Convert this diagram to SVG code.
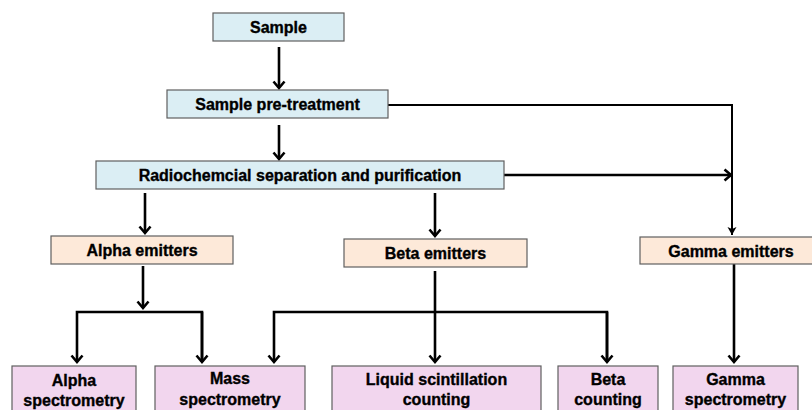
<svg xmlns="http://www.w3.org/2000/svg" width="812" height="410" viewBox="0 0 812 410">
<style>
  .box rect { stroke: #5f5f5f; stroke-width: 1.2; }
  .blue rect { fill: #DBEEF4; }
  .peach rect { fill: #FDE9D9; }
  .pink rect { fill: #F2D6EE; }
  text { font-family: "Liberation Sans", Arial, sans-serif; font-weight: bold; font-size: 16px; fill: #000; stroke: #000; stroke-width: 0.35; text-anchor: middle; }
  .conn path { fill: none; stroke: #000; stroke-width: 2.6; }
  .conn path.thin { stroke-width: 2; }
</style>
<defs>
  <marker id="open" markerUnits="userSpaceOnUse" viewBox="-8 -7 10 14" refX="0" refY="0" markerWidth="10" markerHeight="14" orient="auto" overflow="visible">
    <path d="M-6.5,-5.5 L0,0 L-6.5,5.5" fill="none" stroke="#000" stroke-width="2.6" stroke-linejoin="miter"/>
  </marker>
  <marker id="solid" markerUnits="userSpaceOnUse" viewBox="-8 -5 9 10" refX="0" refY="0" markerWidth="9" markerHeight="10" orient="auto" overflow="visible">
    <path d="M-8,-4.5 L0,0 L-8,4.5 L-6,0 Z" fill="#000"/>
  </marker>
</defs>
<rect width="812" height="410" fill="#fff"/>

<g id="connectors" class="conn">
  <path d="M279,47 V88" marker-end="url(#open)"/>
  <path d="M279,125 V159" marker-end="url(#open)"/>
  <path class="thin" d="M388,105 H732 V235" marker-end="url(#solid)"/>
  <path d="M504,175 H731" marker-end="url(#open)"/>
  <path d="M145,193 V233" marker-end="url(#open)"/>
  <path d="M435,193 V236" marker-end="url(#open)"/>
  <path d="M143,266 V308" marker-end="url(#open)"/>
  <path d="M202,362 V312 H77 V362" marker-end="url(#open)"/>
  <path d="M202,312 V362" marker-end="url(#open)"/>
  <path d="M435,271 V362" marker-end="url(#open)"/>
  <path d="M607,362 V312 H274 V362" marker-end="url(#open)"/>
  <path d="M607,312 V362" marker-end="url(#open)"/>
  <path d="M734,264 V362" marker-end="url(#open)"/>
</g>

<g id="sample" class="box blue">
  <rect x="213" y="13" width="131" height="28"/>
  <text x="278.5" y="33">Sample</text>
</g>
<g id="pretreatment" class="box blue">
  <rect x="167" y="90" width="221" height="28"/>
  <text x="277.5" y="110">Sample pre-treatment</text>
</g>
<g id="separation" class="box blue">
  <rect x="96" y="161" width="408" height="28"/>
  <text x="300" y="181">Radiochemcial separation and purification</text>
</g>
<g id="alpha-emitters" class="box peach">
  <rect x="51" y="236" width="182" height="28"/>
  <text x="142" y="256">Alpha emitters</text>
</g>
<g id="beta-emitters" class="box peach">
  <rect x="344" y="239" width="183" height="28"/>
  <text x="435.5" y="259">Beta emitters</text>
</g>
<g id="gamma-emitters" class="box peach">
  <rect x="640" y="237" width="182" height="27"/>
  <text x="731" y="256.5">Gamma emitters</text>
</g>
<g id="alpha-spectrometry" class="box pink">
  <rect x="12" y="366" width="124" height="50"/>
  <text x="74" y="386">Alpha</text>
  <text x="74" y="406">spectrometry</text>
</g>
<g id="mass-spectrometry" class="box pink">
  <rect x="155" y="366" width="150" height="50"/>
  <text x="230" y="384">Mass</text>
  <text x="230" y="405">spectrometry</text>
</g>
<g id="lsc" class="box pink">
  <rect x="332" y="366" width="209" height="50"/>
  <text x="436.5" y="385">Liquid scintillation</text>
  <text x="436.5" y="405">counting</text>
</g>
<g id="beta-counting" class="box pink">
  <rect x="558" y="366" width="100" height="50"/>
  <text x="608" y="385">Beta</text>
  <text x="608" y="405">counting</text>
</g>
<g id="gamma-spectrometry" class="box pink">
  <rect x="673" y="366" width="125" height="50"/>
  <text x="735.5" y="385">Gamma</text>
  <text x="735.5" y="405">spectrometry</text>
</g>
</svg>
